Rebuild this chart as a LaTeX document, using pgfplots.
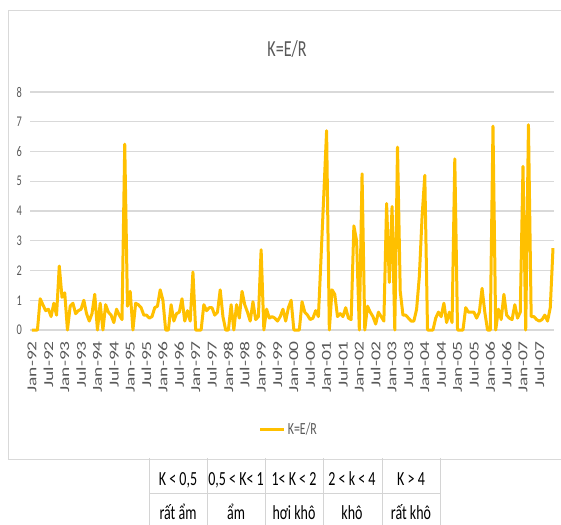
\documentclass[border=0pt]{standalone}
\usepackage{fontspec}
\setmainfont{Carlito}
\newfontfamily\narrowfont[FakeStretch=0.7]{Carlito}
\usepackage{graphicx}
\usepackage{pgfplots}
\usepackage{pgfplotstable}
\pgfplotsset{compat=1.18}
\definecolor{kline}{HTML}{FFC000}
\definecolor{lgray}{HTML}{595959}
\definecolor{ggray}{HTML}{D9D9D9}
\definecolor{tgray}{HTML}{D4D4D4}
\newcommand{\xl}[1]{\scalebox{1}[0.7]{#1}}
\pgfplotstableread{
K
0
0
0
1.05
0.85
0.65
0.7
0.45
0.9
0.5
2.15
1.1
1.25
0
0.8
0.9
0.55
0.65
0.7
1.0
0.55
0.3
0.55
1.2
0
0.9
0
0.85
0.6
0.5
0.25
0.7
0.5
0.35
6.25
0.8
1.3
0
0.9
0.85
0.75
0.5
0.5
0.4
0.45
0.75
0.8
1.35
1.0
0
0
0.85
0.3
0.55
0.6
1.05
0.3
0.65
0.3
1.95
0
0
0
0.85
0.65
0.75
0.75
0.5
0.6
1.35
0.45
0
0
0.85
0
0.85
0.4
1.3
0.85
0.6
0.3
0.95
0.35
0.45
2.7
0
0.7
0.4
0.45
0.4
0.3
0.45
0.7
0.3
0.75
1.0
0
0
0
0.95
0.6
0.5
0.35
0.4
0.65
0.45
2.5
4.6
6.7
0
1.35
1.2
0.45
0.55
0.45
0.75
0.4
0.35
3.5
3.0
0
5.25
0
0.8
0.6
0.45
0.2
0.6
0.45
0.3
4.25
1.6
4.15
0
6.15
1.3
0.5
0.5
0.4
0.3
0.3
0.7
1.8
3.8
5.2
0
0
0
0.4
0.6
0.45
0.9
0.25
0.6
0.25
5.75
0
0
0
0.75
0.6
0.6
0.6
0.4
0.6
1.4
0.6
0
0
6.85
0
0.7
0.35
1.2
0.5
0.4
0.35
0.85
0.4
0.6
5.5
0
6.9
0.45
0.45
0.35
0.3
0.35
0.5
0.3
0.75
2.75
}\kdata

\begin{document}
\begin{tikzpicture}[x=1pt,y=1pt]
\path[use as bounding box] (0pt,0pt) rectangle (561pt,524pt);
\fill[white] (0pt,0pt) rectangle (561pt,524pt);
% chart border
\draw[ggray, line width=1pt] (562pt,513pt) -- (8pt,513pt) -- (8pt,65pt) -- (562pt,65pt);
% table
\foreach \xx in {149,207,265,323,382,440} \draw[tgray, line width=1pt] (\xx pt,66pt) -- (\xx pt,-1pt);
\draw[tgray, line width=1pt] (149pt,31pt) -- (440pt,31pt);
\begin{scope}[every node/.style={anchor=base, font=\narrowfont\fontsize{20}{22}\selectfont, text=black}]
\node at (178pt,39pt) {K < 0,5};
\node at (236pt,39pt) {0,5 < K< 1};
\node at (294pt,39pt) {1< K < 2};
\node at (352pt,39pt) {2 < k < 4};
\node at (411pt,39pt) {K > 4};
\node at (178pt,5pt) {rất ẩm};
\node at (236pt,5pt) {ẩm};
\node at (294pt,5pt) {hơi khô};
\node at (352pt,5pt) {khô};
\node at (411pt,5pt) {rất khô};
\end{scope}
% title
\node[font=\narrowfont\fontsize{23}{26}\selectfont, text=lgray] at (287pt,474.5pt) {K=E/R};
\begin{axis}[
  at={(30pt,194pt)}, anchor=south west, scale only axis,
  width=524pt, height=238pt,
  xmin=-0.73, xmax=191.37, ymin=0, ymax=8,
  clip=false,
  axis line style={draw=none},
  tick style={draw=none},
  major tick length=0pt,
  ytick={0,1,...,8},
  ymajorgrids,
  grid style={draw=ggray, line width=1.2pt},
  /pgf/number format/assume math mode=true,
  yticklabel style={font=\narrowfont\fontsize{14.8}{16}\selectfont, text=lgray, anchor=east, inner xsep=0pt, xshift=-8pt},
  xtick={0,6,...,186},
  xticklabels={\xl{Jan-92},\xl{Jul-92},\xl{Jan-93},\xl{Jul-93},\xl{Jan-94},\xl{Jul-94},\xl{Jan-95},\xl{Jul-95},\xl{Jan-96},\xl{Jul-96},\xl{Jan-97},\xl{Jul-97},\xl{Jan-98},\xl{Jul-98},\xl{Jan-99},\xl{Jul-99},\xl{Jan-00},\xl{Jul-00},\xl{Jan-01},\xl{Jul-01},\xl{Jan-02},\xl{Jul-02},\xl{Jan-03},\xl{Jul-03},\xl{Jan-04},\xl{Jul-04},\xl{Jan-05},\xl{Jul-05},\xl{Jan-06},\xl{Jul-06},\xl{Jan-07},\xl{Jul-07}},
  xticklabel style={rotate=90, anchor=east, font=\fontsize{19.5}{21}\selectfont, text=lgray, inner xsep=11pt},
  legend style={at={(0.494,-0.416)}, anchor=center, draw=none, fill=none, font=\narrowfont\fontsize{17}{18}\selectfont, text=lgray, inner sep=0pt},
  legend image code/.code={\draw[#1] (0pt,0pt) -- (24pt,0pt);},
]
\addplot[kline, line width=3pt, line join=round] table[x expr=\coordindex, y=K] {\kdata};
\addlegendentry{K=E/R}
\end{axis}
\end{tikzpicture}
\end{document}
